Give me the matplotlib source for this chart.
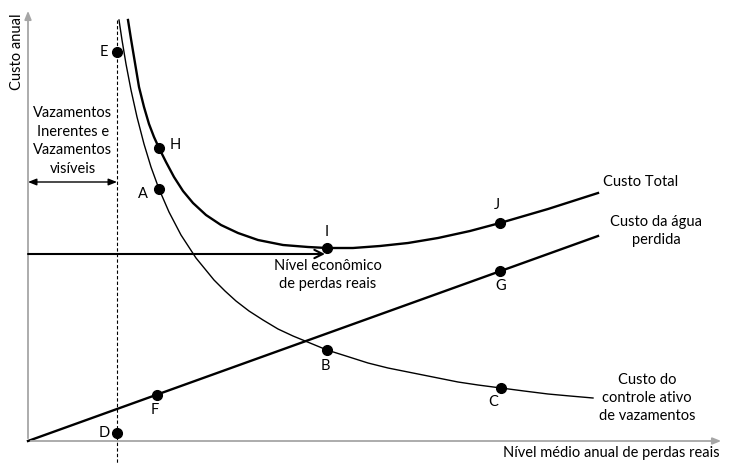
import matplotlib.pyplot as plt

plt.rcParams['font.family'] = ['Lato', 'DejaVu Sans']

# curva de custo do controle ativo de vazamentos
controle_x = [91, 94, 98, 103, 109, 116, 123, 131, 141, 153, 168, 177, 186, 197, 208,
              221, 235, 250, 265, 282, 299, 318, 340, 360, 385, 410, 430, 450, 473,
              496, 520, 542, 565]
controle_y = [421, 401, 377, 351, 324, 297, 274, 252, 229, 206, 183, 172, 161, 150, 140,
              130, 121, 112, 105, 98, 91, 85, 78, 73, 68, 63, 59, 56, 53,
              50, 47, 45, 43]

# curva de custo total
total_x = [100, 103, 107, 111, 116, 121, 126, 131, 138, 146, 155, 165, 178, 193,
           210, 230, 255, 280, 299, 325, 352, 380, 410, 442, 472, 520, 570]
total_y = [421, 402, 378, 354, 334, 317, 304, 293, 279, 264, 250, 238, 226, 216,
           208, 201, 196, 194, 193, 193, 195, 198, 203, 210, 218, 232, 248]

# custo da agua perdida (reta)
agua_x = [0, 570]
agua_y = [0, 205]

# pontos marcados
pontos = {
    'A': (131, 252), 'B': (299, 91), 'C': (473, 53),
    'D': (89, 8), 'E': (89, 389), 'F': (129, 46), 'G': (472, 170),
    'H': (131, 293), 'I': (299, 193), 'J': (472, 218),
}
rotulos = {
    'A': (115, 247), 'B': (297, 75), 'C': (465, 39), 'D': (76, 8), 'E': (76, 389),
    'F': (127, 31), 'G': (473, 155), 'H': (147, 296), 'I': (299, 209), 'J': (469, 236),
}
x_limite = 89
nivel_economico = 187

fig = plt.figure(figsize=(7.29, 4.63), dpi=100)
ax = fig.add_axes([0, 0, 1, 1])
ax.set_xlim(-28, 701)
ax.set_ylim(-22, 441)
ax.axis('off')

# eixos
cinza = '#a6a6a6'
ax.annotate('', xy=(0, 433), xytext=(0, 0),
            arrowprops=dict(arrowstyle='-|>,head_length=0.5,head_width=0.2', color=cinza, lw=1.3))
ax.annotate('', xy=(696, 0), xytext=(0, 0),
            arrowprops=dict(arrowstyle='-|>,head_length=0.5,head_width=0.2', color=cinza, lw=1.3))

# linha tracejada
ax.plot([x_limite, x_limite], [421, -22], color='black', lw=0.8, ls=(0, (3, 2)))

ax.plot(controle_x, controle_y, color='black', lw=1.0)
ax.plot(total_x, total_y, color='black', lw=1.7)
ax.plot(agua_x, agua_y, color='black', lw=1.7)

# setas
ax.annotate('', xy=(x_limite, 259), xytext=(0, 259),
            arrowprops=dict(arrowstyle='<|-|>,head_length=0.5,head_width=0.2', color='black', lw=1.0,
                            shrinkA=0, shrinkB=0))
ax.annotate('', xy=(297, nivel_economico), xytext=(0, nivel_economico),
            arrowprops=dict(arrowstyle='->,head_length=0.6,head_width=0.3', color='black', lw=1.5,
                            shrinkA=0, shrinkB=0))

for k, (x, y) in pontos.items():
    ax.plot(x, y, 'o', color='black', ms=7)
    lx, ly = rotulos[k]
    ax.text(lx, ly, k, fontsize=10.5, ha='center', va='center')

fs = 10.5
ax.text(-11, 389, 'Custo anual', rotation=90, fontsize=fs, ha='center', va='center')
ax.text(45, 300, 'Vazamentos\nInerentes e\nVazamentos\nvisíveis', fontsize=fs,
        ha='center', va='center', linespacing=1.42)
ax.text(575, 259, 'Custo Total', fontsize=fs, ha='left', va='center')
ax.text(628, 210, 'Custo da água\nperdida', fontsize=fs, ha='center', va='center', linespacing=1.3)
ax.text(300, 166, 'Nível econômico\nde perdas reais', fontsize=fs, ha='center', va='center',
        linespacing=1.35)
ax.text(619, 43, 'Custo do\ncontrole ativo\nde vazamentos', fontsize=fs, ha='center', va='center',
        linespacing=1.35)
ax.text(692, -12, 'Nível médio anual de perdas reais', fontsize=fs, ha='right', va='center')

fig.savefig('out.png', dpi=100)
